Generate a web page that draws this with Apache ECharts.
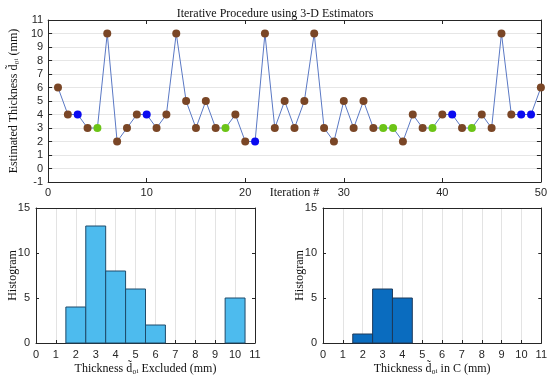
<!DOCTYPE html>
<html>
<head>
<meta charset="utf-8">
<script src="https://cdn.jsdelivr.net/npm/echarts@6/dist/echarts.min.js"></script>
<style>html,body{margin:0;padding:0;background:#fff}#c{width:550px;height:377px}</style>
</head>
<body>
<div id="c"></div>
<script>
// ---- data ----
var iterations = [1,2,3,4,5,6,7,8,9,10,11,12,13,14,15,16,17,18,19,20,21,22,23,24,25,26,27,28,29,30,31,32,33,34,35,36,37,38,39,40,41,42,43,44,45,46,47,48,49,50];
var thickness = [6,4,4,3,3,10,2,3,4,4,3,4,10,5,3,5,3,3,4,2,2,10,3,5,3,5,10,3,2,5,3,5,3,3,3,2,4,3,3,4,4,3,3,4,3,10,4,4,4,6];
// E = excluded (brown), B = in C (blue), G = in C (green)
var pointClass = ['E','E','B','E','G','E','E','E','E','B','E','E','E','E','E','E','E','G','E','E','B','E','E','E','E','E','E','E','E','E','E','E','E','G','G','E','E','E','G','E','B','E','G','E','E','E','E','B','B','E'];
var binCenters = [1,2,3,4,5,6,7,8,9,10];
var excludedCounts = [0,4,13,8,6,2,0,0,0,5];
var inCCounts = [0,1,6,5,0,0,0,0,0,0];

var classColor = {E:'#7a4626', B:'#0a0af0', G:'#6cc417'};
var axisCol = '#262626';
var sans = 'Liberation Sans';
var serif = 'Liberation Serif';

var chart = echarts.init(document.getElementById('c'), null, {renderer:'canvas'});

function lbl(m){ return {color:axisCol, fontFamily:sans, fontSize:11, margin:m}; }
function aLine(){ return {onZero:false, lineStyle:{color:axisCol, width:1}}; }
function tick(len){ return {inside:true, length:len, lineStyle:{color:axisCol}}; }
var nameStyle = {fontFamily:serif, fontSize:12, color:'#111'};

function histRender(params, api){
  var x = api.value(0), c = api.value(1);
  var p0 = api.coord([x-0.5, c]);
  var p1 = api.coord([x+0.5, 0]);
  return {type:'rect', shape:{x:p0[0], y:p0[1], width:p1[0]-p0[0], height:p1[1]-p0[1]},
    style: api.style()};
}
function histData(counts){
  var d=[]; for(var i=0;i<binCenters.length;i++){ if(counts[i]>0) d.push([binCenters[i],counts[i]]); } return d;
}

var option = {
  animation:false,
  textStyle:{fontFamily:sans},
  title:{text:'Iterative Procedure using 3-D Estimators', left:'center', top:3,
    textStyle:{fontFamily:serif, fontSize:12, fontWeight:'normal', color:'#111'}},
  grid:[
    {left:36, top:20, width:506, height:162, show:false},
    {left:36, top:208, width:219, height:135, show:false},
    {left:323, top:208, width:219, height:135, show:false}
  ],
  xAxis:[
    {type:'value', gridIndex:0, min:0, max:50, interval:10, name:'Iteration #', nameLocation:'middle', nameGap:5, nameMoveOverlap:false,
      nameTextStyle:Object.assign({verticalAlign:'top'},nameStyle), axisLine:aLine(), axisTick:tick(4), axisLabel:lbl(5), splitLine:{show:false}},
    {type:'value', gridIndex:0, min:0, max:50, interval:10, position:'top',
      axisLine:aLine(), axisTick:tick(4), axisLabel:{show:false}, splitLine:{show:false}},
    {type:'value', gridIndex:1, min:0, max:11, interval:1, name:'Thickness d\u0303\u2080\u1d62 Excluded (mm)', nameLocation:'middle', nameGap:20,
      nameTextStyle:nameStyle, axisLine:aLine(), axisTick:tick(3), axisLabel:lbl(6),
      splitLine:{show:true, lineStyle:{color:'#e3e3e3'}}},
    {type:'value', gridIndex:1, min:0, max:11, interval:1, position:'top',
      axisLine:aLine(), axisTick:{show:false}, axisLabel:{show:false}, splitLine:{show:false}},
    {type:'value', gridIndex:2, min:0, max:11, interval:1, name:'Thickness d\u0303\u2080\u1d62 in C (mm)', nameLocation:'middle', nameGap:20,
      nameTextStyle:nameStyle, axisLine:aLine(), axisTick:tick(3), axisLabel:lbl(6),
      splitLine:{show:true, lineStyle:{color:'#e3e3e3'}}},
    {type:'value', gridIndex:2, min:0, max:11, interval:1, position:'top',
      axisLine:aLine(), axisTick:{show:false}, axisLabel:{show:false}, splitLine:{show:false}}
  ],
  yAxis:[
    {type:'value', gridIndex:0, min:-1, max:11, interval:1, name:'Estimated Thickness d\u0303\u2080\u1d62 (mm)', nameLocation:'middle', nameGap:20,
      nameTextStyle:nameStyle, axisLine:aLine(), axisTick:tick(4), axisLabel:lbl(5),
      splitLine:{show:true, lineStyle:{color:'#e6e6e6'}}},
    {type:'value', gridIndex:0, min:-1, max:11, interval:1, position:'right',
      axisLine:aLine(), axisTick:tick(4), axisLabel:{show:false}, splitLine:{show:false}},
    {type:'value', gridIndex:1, min:0, max:15, interval:5, name:'Histogram', nameLocation:'middle', nameGap:17, nameMoveOverlap:false,
      nameTextStyle:nameStyle, axisLine:aLine(), axisTick:tick(3), axisLabel:lbl(6), splitLine:{show:false}},
    {type:'value', gridIndex:1, min:0, max:15, interval:5, position:'right',
      axisLine:aLine(), axisTick:tick(3), axisLabel:{show:false}, splitLine:{show:false}},
    {type:'value', gridIndex:2, min:0, max:15, interval:5, name:'Histogram', nameLocation:'middle', nameGap:17, nameMoveOverlap:false,
      nameTextStyle:nameStyle, axisLine:aLine(), axisTick:tick(3), axisLabel:lbl(6), splitLine:{show:false}},
    {type:'value', gridIndex:2, min:0, max:15, interval:5, position:'right',
      axisLine:aLine(), axisTick:tick(3), axisLabel:{show:false}, splitLine:{show:false}}
  ],
  series:[
    {type:'line', xAxisIndex:0, yAxisIndex:0,
      data: iterations.map(function(x,i){ return [x, thickness[i]]; }),
      lineStyle:{color:'#5a78c4', width:1},
      symbol:'circle', symbolSize:8, showSymbol:true,
      itemStyle:{color:function(p){ return classColor[pointClass[p.dataIndex]]; }, borderWidth:0},
      z:3},
    {type:'custom', xAxisIndex:2, yAxisIndex:2, renderItem:histRender, data:histData(excludedCounts),
      encode:{x:0,y:1}, itemStyle:{color:'#4dbbee', borderColor:'#1e4a6a', borderWidth:1}},
    {type:'custom', xAxisIndex:4, yAxisIndex:4, renderItem:histRender, data:histData(inCCounts),
      encode:{x:0,y:1}, itemStyle:{color:'#0a6cbf', borderColor:'#1e3a5a', borderWidth:1}}
  ]
};
chart.setOption(option);
</script>
</body>
</html>
